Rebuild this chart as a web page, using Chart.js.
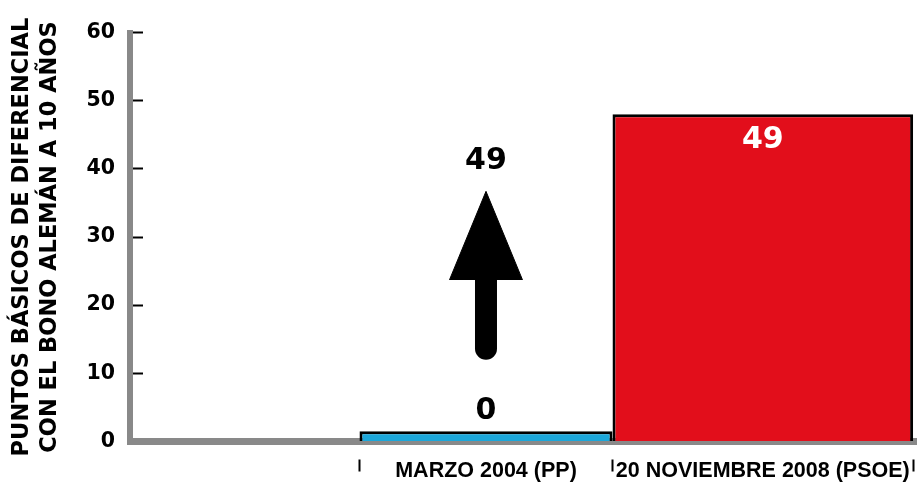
<!DOCTYPE html>
<html><head><meta charset="utf-8">
<script src="https://cdn.jsdelivr.net/npm/chart.js@4/dist/chart.umd.min.js"></script>
<style>html,body{margin:0;padding:0;background:#fff;}canvas{display:block;}</style>
</head><body>
<canvas id="c" width="917" height="487"></canvas>
<script>
// ---- data ----
const categories = ["MARZO 2004 (PP)", "20 NOVIEMBRE 2008 (PSOE)"];
const categoryPositions = [1, 2];
const barValues = [1.5, 48];
const barLabels = ["0", "49"];
const arrowStart = 13.6;
const arrowHeadBase = 23.7;
const arrowTip = 36.7;
const arrowLabel = "49";
const yTickValues = [0, 10, 20, 30, 40, 50, 60];
const yTitle = ["PUNTOS BÁSICOS DE DIFERENCIAL", "CON EL BONO ALEMÁN A 10 AÑOS"];

// ---- style / layout ----
const FONT = "'Liberation Sans', Arial, Helvetica, sans-serif";
const WIDE = "'DejaVu Sans', Verdana, sans-serif";
const barColors = ['#1CA7DA', '#E20E1B'];
const barFractions = [0.914, 1.086];
const X_MIN = -0.286, X_MAX = 2.557;
const headHalf = 0.132;
const GRAY = '#898989';
const boundaries = [
  categoryPositions[0] - barFractions[0] / 2,
  categoryPositions[0] + barFractions[0] / 2,
  categoryPositions[1] + barFractions[1] / 2
];

const barDatasets = categoryPositions.map((x, i) => ({
  type: 'bar',
  data: [{x: x, y: barValues[i]}],
  backgroundColor: barColors[i],
  borderColor: '#000',
  borderWidth: 3,
  borderSkipped: 'bottom',
  barPercentage: barFractions[i],
  categoryPercentage: 1,
  grouped: false,
  order: 2 - i
}));

const shaft = {
  type: 'line',
  data: [{x: categoryPositions[0], y: arrowStart}, {x: categoryPositions[0], y: arrowHeadBase + 1.3}],
  borderColor: '#000', borderWidth: 22, borderCapStyle: 'round',
  pointRadius: 0, fill: false, order: 0
};
const head = {
  type: 'line',
  data: [
    {x: categoryPositions[0] - headHalf, y: arrowHeadBase},
    {x: categoryPositions[0], y: arrowTip},
    {x: categoryPositions[0] + headHalf, y: arrowHeadBase}
  ],
  borderColor: '#000', borderWidth: 1, backgroundColor: '#000',
  fill: {value: arrowHeadBase}, tension: 0,
  pointRadius: 0, order: 0
};

const labelPlugin = {
  id: 'valueLabels',
  afterDraw(chart) {
    const ctx = chart.ctx;
    ctx.save();
    ctx.textAlign = 'center';
    ctx.textBaseline = 'middle';
    ctx.font = 'bold 30px ' + WIDE;
    const b0 = chart.getDatasetMeta(0).data[0];
    ctx.fillStyle = '#000';
    ctx.fillText(barLabels[0], b0.x, b0.y - 20);
    const b1 = chart.getDatasetMeta(1).data[0];
    ctx.fillStyle = '#fff';
    ctx.fillText(barLabels[1], b1.x, b1.y + 25.5);
    const tip = chart.getDatasetMeta(3).data[1];
    ctx.fillStyle = '#000';
    ctx.fillText(arrowLabel, tip.x, tip.y - 30.5);
    ctx.restore();
  }
};

new Chart(document.getElementById('c'), {
  type: 'bar',
  data: { datasets: [...barDatasets, shaft, head] },
  options: {
    responsive: false,
    animation: false,
    layout: { padding: { top: 32.5, left: 0, right: 0, bottom: 0 } },
    plugins: { legend: { display: false }, tooltip: { enabled: false } },
    scales: {
      x: {
        type: 'linear', position: 'bottom', min: X_MIN, max: X_MAX, offset: false, z: 1,
        afterBuildTicks: s => { s.ticks = categoryPositions.map(v => ({value: v})); },
        afterFit: s => { s.height = 45.5; s.paddingLeft = 0; s.paddingRight = 0; },
        ticks: {
          autoSkip: false, maxRotation: 0, minRotation: 0, padding: 17, color: '#000',
          font: { family: FONT, size: 21.5, weight: 'bold' },
          callback: v => { const i = categoryPositions.indexOf(v); return i >= 0 ? categories[i] : ''; }
        },
        grid: { display: false, drawTicks: false, offset: false },
        border: { display: true, color: GRAY, width: 7 }
      },
      x2: {
        type: 'linear', position: 'bottom', weight: -1, min: X_MIN, max: X_MAX, offset: false,
        afterBuildTicks: s => { s.ticks = boundaries.map(v => ({value: v})); },
        afterFit: s => { s.height = 0; s.paddingLeft = 0; s.paddingRight = 0; },
        ticks: { display: false },
        border: { display: false },
        grid: { display: true, drawOnChartArea: false, offset: false, drawTicks: true,
                tickLength: 30, tickWidth: 2, tickColor: '#000', tickBorderDash: [0, 17.5, 12, 100] }
      },
      y: {
        type: 'linear', min: 0, max: 60,
        afterBuildTicks: s => { s.ticks = yTickValues.map(v => ({value: v})); },
        afterFit: s => { s.width = 130; s.paddingTop = 0; s.paddingBottom = 0; },
        ticks: { color: '#000', padding: 28, font: { family: WIDE, size: 20.5, weight: 'bold' } },
        grid: { drawOnChartArea: false, drawTicks: true, tickLength: -13, tickWidth: 2, tickColor: '#000' },
        border: { display: true, color: GRAY, width: 6 },
        title: {
          display: true, text: yTitle, color: '#000',
          font: { family: WIDE, size: 22.5, weight: 'bold', lineHeight: 1.22 },
          padding: { top: 8.75, bottom: 0 }
        }
      }
    }
  },
  plugins: [labelPlugin]
});
</script>
</body></html>
